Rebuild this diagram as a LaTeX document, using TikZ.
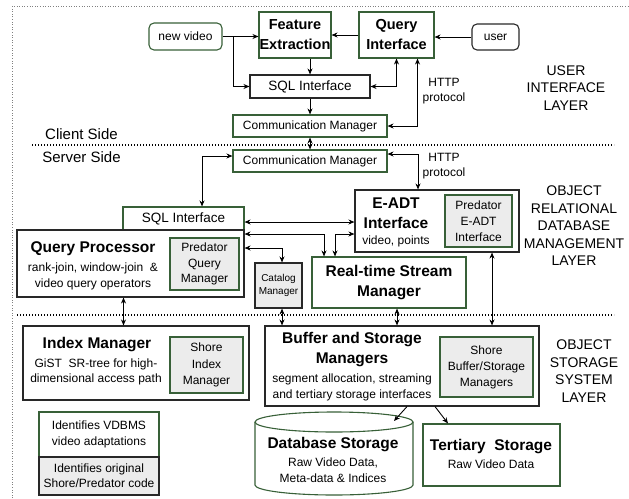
\documentclass[tikz,border=0pt]{standalone}
\usepackage{fontspec}
\setmainfont{Liberation Sans}
\usetikzlibrary{arrows.meta}
\definecolor{boxgreen}{RGB}{56,96,56}
\definecolor{boxgray}{RGB}{236,236,236}
\definecolor{boxblack}{RGB}{40,40,40}

\begin{document}
\begin{tikzpicture}[x=1pt, y=-1pt]
  \tikzset{box/.style={draw=boxblack, line width=1.1pt, fill=white, inner sep=0pt},
    gbox/.style={box, draw=boxgreen},
    inbox/.style={box, draw=boxgreen, fill=boxgray},
    txt/.style={font=\fontsize{12}{15.5}\selectfont, align=center, inner sep=0pt},
    ttl/.style={font=\fontsize{15.5}{20}\selectfont\bfseries, align=center, inner sep=0pt},
    sttl/.style={ttl, font=\fontsize{14.5}{20}\selectfont\bfseries},
    layer/.style={font=\fontsize{14}{17.5}\selectfont, align=center, inner sep=0pt},
    conn/.style={line width=0.9pt, >={Stealth[length=6pt,width=5pt]}},
    sep/.style={line width=1.4pt, dash pattern=on 1.4pt off 1.6pt}}
  \useasboundingbox (0,0) rectangle (629,498);
  \draw[dotted, gray, line width=0.6pt] (12,498) -- (12,6) -- (629,6);

  % user interface layer
  \node[gbox, rounded corners=5pt, minimum width=73pt, minimum height=27pt, txt] (newvideo) at (185.5,36.5) {new video};
  \node[gbox, minimum width=72pt, minimum height=46pt, sttl] (feat) at (295,35) {Feature\\Extraction};
  \node[gbox, minimum width=75pt, minimum height=46pt, sttl] (qint) at (396.5,35) {Query\\Interface};
  \node[box, rounded corners=5pt, minimum width=47pt, minimum height=26pt, txt] (user) at (495.5,37) {user};
  \node[box, minimum width=120pt, minimum height=23pt, txt, font=\fontsize{13.5}{16}\selectfont] (sqlc) at (310,86.5) {SQL Interface};
  \node[gbox, minimum width=154pt, minimum height=22pt, txt] (commc) at (310,126) {Communication Manager};
  \node[txt] (httpa) at (444,91) {HTTP\\protocol};
  \node[layer] (uilayer) at (566,88) {USER\\INTERFACE\\LAYER};
  \node[font=\fontsize{15}{18}\selectfont, inner sep=0pt] (client) at (81.5,134) {Client Side};
  \node[font=\fontsize{15}{18}\selectfont, inner sep=0pt] (server) at (81.5,157.5) {Server Side};
  \draw[sep] (32,145) -- (614,145);

  % object relational database management layer
  \node[gbox, minimum width=154pt, minimum height=22pt, txt] (comms) at (310,161) {Communication Manager};
  \node[txt] (httpb) at (444,166) {HTTP\\protocol};
  \node[gbox, minimum width=121pt, minimum height=23pt, txt, font=\fontsize{13.5}{16}\selectfont] (sqls) at (183.5,218.5) {SQL Interface};
  \node[box, minimum width=227pt, minimum height=67pt] (qp) at (130.5,263.5) {};
  \node[inbox, minimum width=69pt, minimum height=52pt, txt] (pqm) at (204.5,264) {Predator\\Query\\Manager};
  \node[ttl] (qptitle) at (93,249) {Query Processor};
  \node[txt, font=\fontsize{12}{16}\selectfont] (qpdesc) at (93,276) {rank-join, window-join\ \ \&\\video query operators};
  \node[box, fill=boxgray, minimum width=47pt, minimum height=45pt, txt, font=\fontsize{10}{13}\selectfont] (cat) at (278.5,285.5) {Catalog\\Manager};
  \node[box, minimum width=164pt, minimum height=62pt] (eadt) at (437,221) {};
  \node[inbox, minimum width=67pt, minimum height=52pt, txt, font=\fontsize{12}{16}\selectfont] (peadt) at (478.5,221) {Predator\\E-ADT\\Interface};
  \node[ttl] (eadttitle) at (396,213) {E-ADT\\Interface};
  \node[txt] (eadtdesc) at (396,241) {video, points};
  \node[gbox, minimum width=154pt, minimum height=51pt, ttl] (rtsm) at (389,282.5) {Real-time Stream\\Manager};
  \node[layer] (orlayer) at (574,226) {OBJECT\\RELATIONAL\\DATABASE\\MANAGEMENT\\LAYER};
  \draw[sep] (17,315) -- (614,315);

  % object storage system layer
  \node[box, minimum width=226pt, minimum height=74pt] (idx) at (136,363) {};
  \node[inbox, minimum width=73pt, minimum height=56pt, txt, font=\fontsize{12}{16.5}\selectfont] (sim) at (206.5,365) {Shore\\Index\\Manager};
  \node[ttl] (idxtitle) at (97,345) {Index Manager};
  \node[txt] (idxdesc) at (96,372) {GiST\ \ SR-tree for high-\\dimensional access path};
  \node[box, minimum width=274pt, minimum height=80pt] (buf) at (402,366) {};
  \node[inbox, minimum width=93pt, minimum height=60pt, txt, font=\fontsize{12}{16}\selectfont] (sbm) at (486.5,367) {Shore\\Buffer/Storage\\Managers};
  \node[ttl] (buftitle) at (352,350) {Buffer and Storage\\Managers};
  \node[txt, font=\fontsize{12}{16}\selectfont] (bufdesc) at (352,387) {segment allocation, streaming\\and tertiary storage interfaces};
  \node[layer] (oslayer) at (584,371) {OBJECT\\STORAGE\\SYSTEM\\LAYER};

  % storage
  \draw[boxgreen, line width=1.1pt, fill=white] (255,422) -- (255,485) arc[start angle=180, end angle=0, x radius=79, y radius=10] -- (413,422);
  \draw[boxgreen, line width=1.1pt] (334,422) ellipse [x radius=79, y radius=10];
  \coordinate (dbtop) at (394,421);
  \node[ttl] (dbtitle) at (333,445) {Database Storage};
  \node[txt, font=\fontsize{12}{16}\selectfont] (dbdesc) at (333,470) {Raw Video Data,\\Meta-data \& Indices};
  \node[gbox, minimum width=137pt, minimum height=62pt] (tert) at (491.5,455) {};
  \node[ttl] (terttitle) at (491,447) {Tertiary\ \ Storage};
  \node[txt] (tertdesc) at (491,464) {Raw Video Data};

  % legend
  \node[gbox, minimum width=120pt, minimum height=45pt, txt, font=\fontsize{12}{16}\selectfont] (legnew) at (99,434.5) {Identifies VDBMS\\video adaptations};
  \node[box, fill=boxgray, minimum width=120pt, minimum height=38pt, txt, font=\fontsize{12}{15}\selectfont] (legold) at (99,476) {Identifies original\\Shore/Predator code};

  % connectors
  \draw[conn, ->] (newvideo.east) -- (newvideo.east -| feat.west);
  \draw[conn, ->] ([xshift=11pt]newvideo.east) |- (sqlc.west);
  \draw[conn, ->] (qint.west) -- (qint.west -| feat.east);
  \draw[conn, ->] (user.west) -- (user.west -| qint.east);
  \draw[conn, ->] (sqlc.north |- feat.south) -- (sqlc.north);
  \draw[conn, <->] (sqlc.east) -| (qint.south);
  \draw[conn, <->] (commc.east) -| ([xshift=21pt]qint.south);
  \draw[conn, ->] (sqlc.south) -- (commc.north);
  \draw[conn, <->] (commc.south) -- (comms.north);
  \draw[conn, <->] ([yshift=7pt]comms.east) -| ([xshift=-19pt]eadt.north);
  \draw[conn, <->] ([yshift=5pt]comms.west) -| ([xshift=18.5pt]sqls.north);
  \draw[conn, <->] ([yshift=-3.5pt]sqls.east) -- ([yshift=-3.5pt]sqls.east -| eadt.west);
  \draw[conn, <->] ([yshift=29.5pt]qp.east) -| ([xshift=-65pt]rtsm.north);
  \draw[conn, <->] ([yshift=-13pt]eadt.west) -| ([xshift=-54pt]rtsm.north);
  \draw[conn, <->] ([yshift=15.5pt]qp.east) -| ([xshift=3.5pt]cat.north);
  \draw[conn, <->] ([xshift=-7pt]qp.south) -- ([xshift=-12.5pt]idx.north);
  \draw[conn, <->] ([xshift=3.5pt]cat.south) -- ([xshift=-120pt]buf.north);
  \draw[conn, <->] ([xshift=8pt]rtsm.south) -- ([xshift=-5pt]buf.north);
  \draw[conn, <->] ([xshift=55pt]eadt.south) -- ([xshift=90pt]buf.north);
  \draw[conn, ->] ([xshift=5pt]buf.south) -- (dbtop);
  \draw[conn, ->] ([xshift=33pt]buf.south) -- ([xshift=-43.5pt]tert.north);
\end{tikzpicture}
\end{document}
